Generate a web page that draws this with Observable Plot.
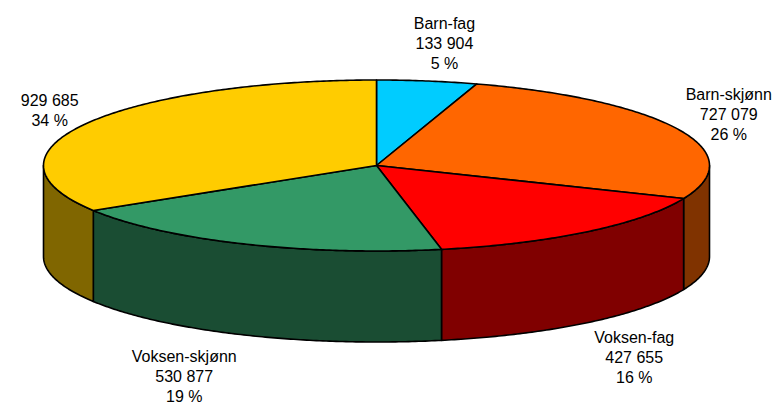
<!DOCTYPE html>
<html>
<head>
<meta charset="utf-8">
<script src="https://cdn.jsdelivr.net/npm/d3@7"></script>
<script src="https://cdn.jsdelivr.net/npm/@observablehq/plot@0.6"></script>
<style>
  html, body { margin: 0; padding: 0; background: #fff; }
  #chart svg { display: block; }
</style>
</head>
<body>
<div id="chart"></div>
<script>
// ---- data ----
const categories = ["Barn-fag", "Barn-skjønn", "Voksen-fag", "Voksen-skjønn", ""];
const values = [133904, 727079, 427655, 530877, 929685];
const topColors = ["#00CCFF", "#FF6600", "#FF0000", "#339966", "#FFCC00"];
const sideColors = ["#006680", "#803300", "#800000", "#1A4D33", "#806600"];

// ---- layout (3D pie projection) ----
const W = 779, H = 405;
const cx = 376, cy = 165, rx = 333, ry = 85.5, depth = 91;
const fontFamily = "'Liberation Sans', Arial, sans-serif";
const fontSize = 16, lineHeight = 1.25;

const total = d3.sum(values);
const fmt = v => d3.format(",")(v).replace(/,/g, " ");
const pt = (t, dy = 0) => ({x: cx + rx * Math.sin(t), y: cy - ry * Math.cos(t) + dy});
const arc = (a, b, dy = 0) => {
  const n = Math.max(2, Math.ceil((b - a) / 0.01));
  return d3.range(n + 1).map(i => pt(a + (b - a) * i / n, dy));
};

let cum = 0;
const slices = values.map((v, i) => {
  const a = cum / total * 2 * Math.PI;
  cum += v;
  const b = cum / total * 2 * Math.PI;
  return {i, name: categories[i], value: v, pct: v / total, a, b};
});

const marks = [];
// side walls (visible front half: PI/2 .. 3PI/2)
for (const s of slices) {
  const a = Math.max(s.a, Math.PI / 2), b = Math.min(s.b, 3 * Math.PI / 2);
  if (b <= a) continue;
  const poly = [...arc(a, b), ...arc(a, b, depth).reverse()];
  poly.push(poly[0]);
  marks.push(Plot.line(poly, {x: "x", y: "y", fill: sideColors[s.i], stroke: "#000", strokeWidth: 1.6, strokeLinejoin: "round"}));
}
// top faces
for (const s of slices) {
  const poly = [{x: cx, y: cy}, ...arc(s.a, s.b), {x: cx, y: cy}];
  marks.push(Plot.line(poly, {x: "x", y: "y", fill: topColors[s.i], stroke: "#000", strokeWidth: 1.6, strokeLinejoin: "round"}));
}

// labels positioned from slice mid-angles
const ctx = document.createElement("canvas").getContext("2d");
ctx.font = `${fontSize}px ${fontFamily}`;
const labels = slices.map(s => {
  const lines = [s.name, fmt(s.value), Math.round(s.pct * 100) + " %"].filter(d => d);
  const t = (s.a + s.b) / 2;
  const sin = Math.sin(t), cos = Math.cos(t);
  const p = pt(t, cos < 0 ? depth : 0);
  const w = d3.max(lines, l => ctx.measureText(l).width);
  const h = lines.length * fontSize * lineHeight;
  const f = Math.max(-1, Math.min(1, 3 * sin));
  const gy = cos < 0 ? 14 : 9;
  return {
    text: lines.join("\n"),
    x: p.x + f * (w / 2 + 7),
    y: p.y - cos * (h / 2 + gy)
  };
});
marks.push(Plot.text(labels, {x: "x", y: "y", text: "text", fontSize, fontFamily, lineHeight, fill: "#000", textAnchor: "middle", lineAnchor: "middle"}));

const chart = Plot.plot({
  width: W, height: H,
  margin: 0,
  x: {domain: [0, W], axis: null},
  y: {domain: [H, 0], axis: null},
  style: {background: "#fff", overflow: "visible"},
  marks
});
document.getElementById("chart").append(chart);
</script>
</body>
</html>
